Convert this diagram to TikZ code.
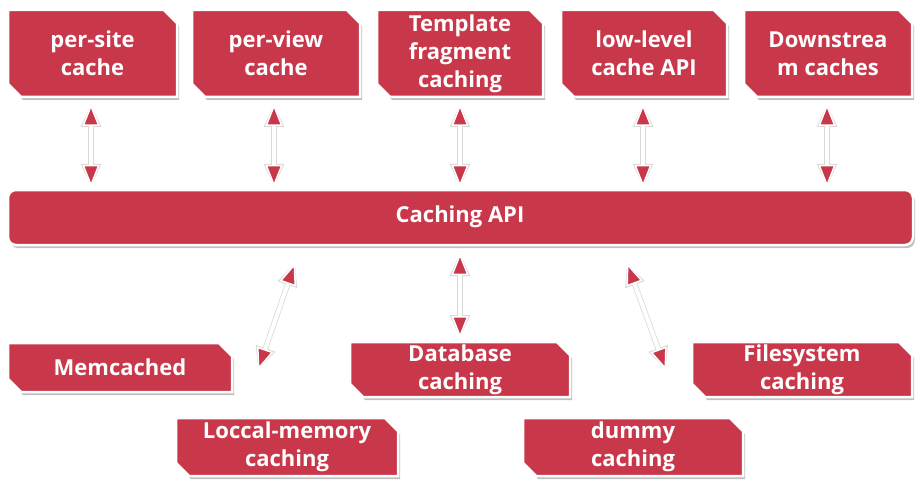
\documentclass[tikz,border=0pt]{standalone}
\usepackage{fontspec}
\setmainfont{Open Sans}
\usetikzlibrary{arrows.meta,calc}
\definecolor{cr}{HTML}{C8374A}
\tikzset{x=1pt,y=-1pt,
 box/.style={inner sep=0pt,text=white,font=\bfseries\fontsize{22}{28}\selectfont,align=center},
 lnk/.style={white,line width=4pt,{Triangle[fill=cr,length=22pt,width=17pt,line width=1.5pt]}-{Triangle[fill=cr,length=22pt,width=17pt,line width=1.5pt]}},
 sh/.style={black!15,line width=5.5pt,{Triangle[length=23pt,width=19pt]}-{Triangle[length=23pt,width=19pt]}}}
\newcommand\snipbox[6]{% name,x1,y1,x2,y2,text
 \fill[black!25] (#2+2,#3+3) -- (#4-13,#3+3) -- (#4+2,#3+16) -- (#4+2,#5+3) -- (#2+15,#5+3) -- (#2+2,#5-10) -- cycle;
 \draw[white,line width=2.5pt,fill=cr] (#2,#3) -- (#4-13,#3) -- (#4,#3+13) -- (#4,#5) -- (#2+13,#5) -- (#2,#5-13) -- cycle;
 \node[box,minimum width=#4-#2,minimum height=#5-#3] (#1) at ({(#2+#4)/2},{(#3+#5)/2}) {#6};}
\begin{document}
\begin{tikzpicture}
\useasboundingbox (0,0) rectangle (920,497);
\snipbox{a}{8}{10}{177}{97}{per-site\\cache}
\snipbox{b}{192}{10}{360}{97}{per-view\\cache}
\snipbox{c}{377}{10}{543}{97}{Template\\fragment\\caching}
\snipbox{d}{561}{10}{727}{97}{low-level\\cache API}
\snipbox{e}{744}{10}{912}{97}{Downstrea\\m caches}
\fill[black!25,rounded corners=8pt] (10,193) rectangle (915,248);
\draw[white,line width=2.5pt,fill=cr,rounded corners=8pt] (8,190) rectangle (913,245);
\node[box] (api) at (460,217) {Caching API};
\snipbox{m}{8}{343}{232}{392}{Memcached}
\snipbox{db}{350}{342}{570}{397}{Database\\caching}
\snipbox{fs}{692}{342}{912}{397}{Filesystem\\caching}
\snipbox{lm}{176}{418}{398}{476}{Loccal-memory\\caching}
\snipbox{du}{523}{418}{743}{476}{dummy\\caching}
\foreach \n/\x in {a/91,b/274,c/460,d/643,e/827}{
 \coordinate (t\n) at (\x,104); \coordinate (u\n) at (\x,187);
 \draw[sh] (t\n) -- (u\n); \draw[lnk] (t\n) -- (u\n);}
\coordinate (p1) at (295,263); \coordinate (q1) at (258,370);
\coordinate (p2) at (460,253); \coordinate (q2) at (460,338);
\coordinate (p3) at (627,263); \coordinate (q3) at (666,370);
\foreach \i in {1,2,3}{\draw[sh] (p\i) -- (q\i); \draw[lnk] (p\i) -- (q\i);}
\end{tikzpicture}
\end{document}
